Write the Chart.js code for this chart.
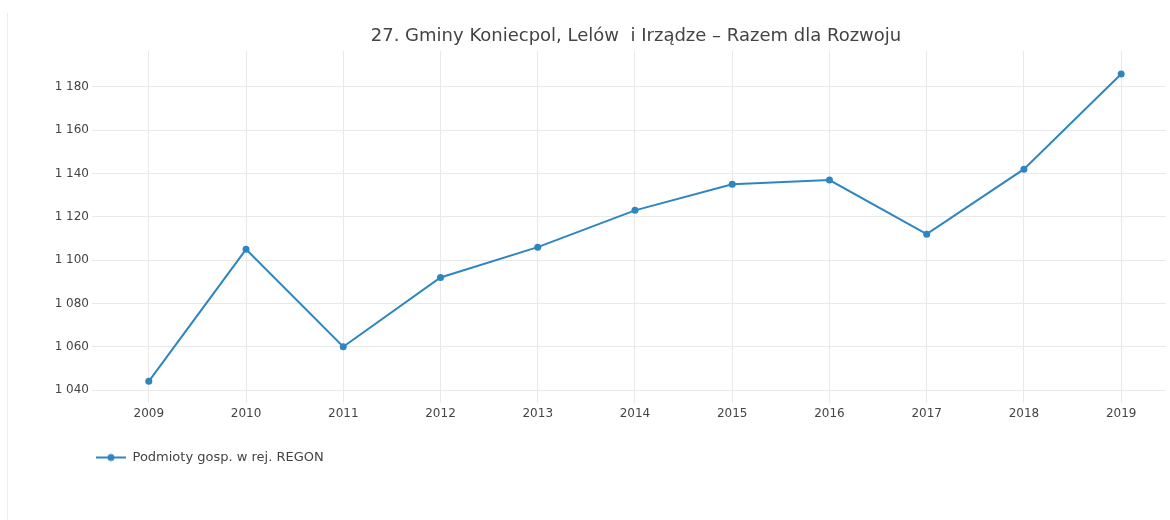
<!DOCTYPE html>
<html>
<head>
<meta charset="utf-8">
<script src="https://cdn.jsdelivr.net/npm/chart.js@4"></script>
<style>
  html, body { margin: 0; padding: 0; background: #fff; }
  #wrap { position: relative; width: 1170px; height: 520px; }
  #edge { position: absolute; left: 7px; top: 13px; height: 507px; border-left: 1px solid #eeeeee; }
</style>
</head>
<body>
<div id="wrap">
  <div id="edge"></div>
  <canvas id="chart" width="1170" height="520"></canvas>
</div>
<script>
// data
const years = [2009, 2010, 2011, 2012, 2013, 2014, 2015, 2016, 2017, 2018, 2019];
const podmioty = [1044, 1105, 1060, 1092, 1106, 1123, 1135, 1137, 1112, 1142, 1186];
const yTicks = [1040, 1060, 1080, 1100, 1120, 1140, 1160, 1180];
const seriesName = 'Podmioty gosp. w rej. REGON';
const titleText = '27. Gminy Koniecpol, Lelów  i Irządze – Razem dla Rozwoju';

const lineColor = '#2e86c1';
const gridColor = '#e9e9e9';
const fontFamily = '"DejaVu Sans", Verdana, sans-serif';

function fmt(v) {
  return String(v).replace(/\B(?=(\d{3})+(?!\d))/g, ' ');
}

// legend symbol: short line with a dot
const sym = document.createElement('canvas');
sym.width = 30; sym.height = 10;
const sctx = sym.getContext('2d');
sctx.strokeStyle = lineColor;
sctx.lineWidth = 2;
sctx.beginPath(); sctx.moveTo(0, 5); sctx.lineTo(30, 5); sctx.stroke();
sctx.fillStyle = lineColor;
sctx.beginPath(); sctx.arc(15, 5, 3.5, 0, Math.PI * 2); sctx.fill();

// shift title / legend boxes to where the original has them
const boxShift = {
  id: 'boxShift',
  afterLayout(chart) {
    if (chart.titleBlock) chart.titleBlock.left = 102;
    if (chart.legend) chart.legend.left = 86;
  }
};

Chart.defaults.font.family = fontFamily;
Chart.defaults.color = '#444';

new Chart(document.getElementById('chart'), {
  type: 'line',
  data: {
    datasets: [{
      label: seriesName,
      data: years.map((y, i) => ({ x: y, y: podmioty[i] })),
      borderColor: lineColor,
      backgroundColor: lineColor,
      borderWidth: 2,
      pointRadius: 3.5,
      pointBorderWidth: 0,
      pointStyle: 'circle',
      tension: 0
    }]
  },
  plugins: [boxShift],
  options: {
    responsive: false,
    animation: false,
    layout: { padding: { left: 0, right: 0, top: 0, bottom: 46 } },
    plugins: {
      title: {
        display: true,
        text: titleText,
        color: '#444',
        font: { size: 18, weight: 'normal', family: fontFamily },
        padding: { top: 25.5, bottom: 3.9 }
      },
      legend: {
        position: 'bottom',
        align: 'start',
        labels: {
          usePointStyle: true,
          pointStyle: sym,
          pointStyleWidth: 30,
          padding: 10,
          color: '#444',
          font: { size: 13 }
        }
      },
      tooltip: { enabled: false }
    },
    scales: {
      x: {
        type: 'linear',
        min: 2008.416,
        max: 2019.461,
        afterBuildTicks: s => { s.ticks = years.map(v => ({ value: v })); },
        afterFit: s => { s.height = 38; },
        ticks: {
          callback: v => String(v),
          padding: 4,
          maxRotation: 0,
          font: { size: 12 },
          color: '#444'
        },
        grid: { color: gridColor, lineWidth: 1, drawTicks: false },
        border: { display: false }
      },
      y: {
        min: 1034,
        max: 1196.6,
        afterBuildTicks: s => { s.ticks = yTicks.map(v => ({ value: v })); },
        afterFit: s => { s.width = 92; },
        ticks: {
          callback: v => fmt(v),
          padding: 3,
          font: { size: 12 },
          color: '#444'
        },
        grid: { color: gridColor, lineWidth: 1, drawTicks: false },
        border: { display: false }
      }
    }
  }
});
</script>
</body>
</html>
